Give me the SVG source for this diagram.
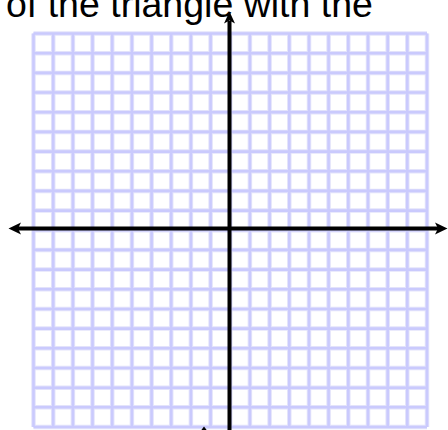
<svg xmlns="http://www.w3.org/2000/svg" width="448" height="430" viewBox="0 0 448 430">
<defs>
<style>
.gl{stroke:#e3e3fb;stroke-width:4.5;fill:none}
.gd{stroke:#cacafd;stroke-width:2.6;fill:none}
.ax{stroke:#000;stroke-width:4;fill:none}
.ah{fill:#000}
.t{font-family:"Liberation Sans",Arial,sans-serif;font-size:37.5px;fill:#000}
</style>
<pattern id="gp" x="33.5" y="33.5" width="19.675" height="19.675" patternUnits="userSpaceOnUse">
<rect width="19.675" height="19.675" fill="#fff"/>
</pattern>
</defs>
<rect width="448" height="430" fill="#fff"/>
<text class="t" x="6" y="17">of the triangle with the</text>
<g id="grid">
<path class="gl" d="M33.5 33.5V427M53.2 33.5V427M72.9 33.5V427M92.5 33.5V427M112.2 33.5V427M131.9 33.5V427M151.6 33.5V427M171.2 33.5V427M190.9 33.5V427M210.6 33.5V427M230.3 33.5V427M249.9 33.5V427M269.6 33.5V427M289.3 33.5V427M309 33.5V427M328.6 33.5V427M348.3 33.5V427M368 33.5V427M387.7 33.5V427M407.3 33.5V427M427 33.5V427M33.5 33.5H427M33.5 53.2H427M33.5 72.9H427M33.5 92.5H427M33.5 112.2H427M33.5 131.9H427M33.5 151.6H427M33.5 171.2H427M33.5 190.9H427M33.5 210.6H427M33.5 230.3H427M33.5 249.9H427M33.5 269.6H427M33.5 289.3H427M33.5 309H427M33.5 328.6H427M33.5 348.3H427M33.5 368H427M33.5 387.7H427M33.5 407.3H427M33.5 427H427"/>
<path class="gd" d="M33.5 33.5V427M53.2 33.5V427M72.9 33.5V427M92.5 33.5V427M112.2 33.5V427M131.9 33.5V427M151.6 33.5V427M171.2 33.5V427M190.9 33.5V427M210.6 33.5V427M230.3 33.5V427M249.9 33.5V427M269.6 33.5V427M289.3 33.5V427M309 33.5V427M328.6 33.5V427M348.3 33.5V427M368 33.5V427M387.7 33.5V427M407.3 33.5V427M427 33.5V427M33.5 33.5H427M33.5 53.2H427M33.5 72.9H427M33.5 92.5H427M33.5 112.2H427M33.5 131.9H427M33.5 151.6H427M33.5 171.2H427M33.5 190.9H427M33.5 210.6H427M33.5 230.3H427M33.5 249.9H427M33.5 269.6H427M33.5 289.3H427M33.5 309H427M33.5 328.6H427M33.5 348.3H427M33.5 368H427M33.5 387.7H427M33.5 407.3H427M33.5 427H427"/>
</g>
<g id="axes">
<path class="ax" d="M18 228.5H438"/>
<path class="ax" d="M229.5 21V430"/>
<path class="ah" d="M8.5 228.5L21 222.5L18 228.5L21 234.5Z"/>
<path class="ah" d="M447.5 228.5L435 222.5L438 228.5L435 234.5Z"/>
<path class="ah" d="M229.5 11.5L235 23.5L229.5 20.5L224 23.5Z"/>
<path class="ah" d="M204 426.5L207 430.5L201 430.5Z"/>
</g>
</svg>
